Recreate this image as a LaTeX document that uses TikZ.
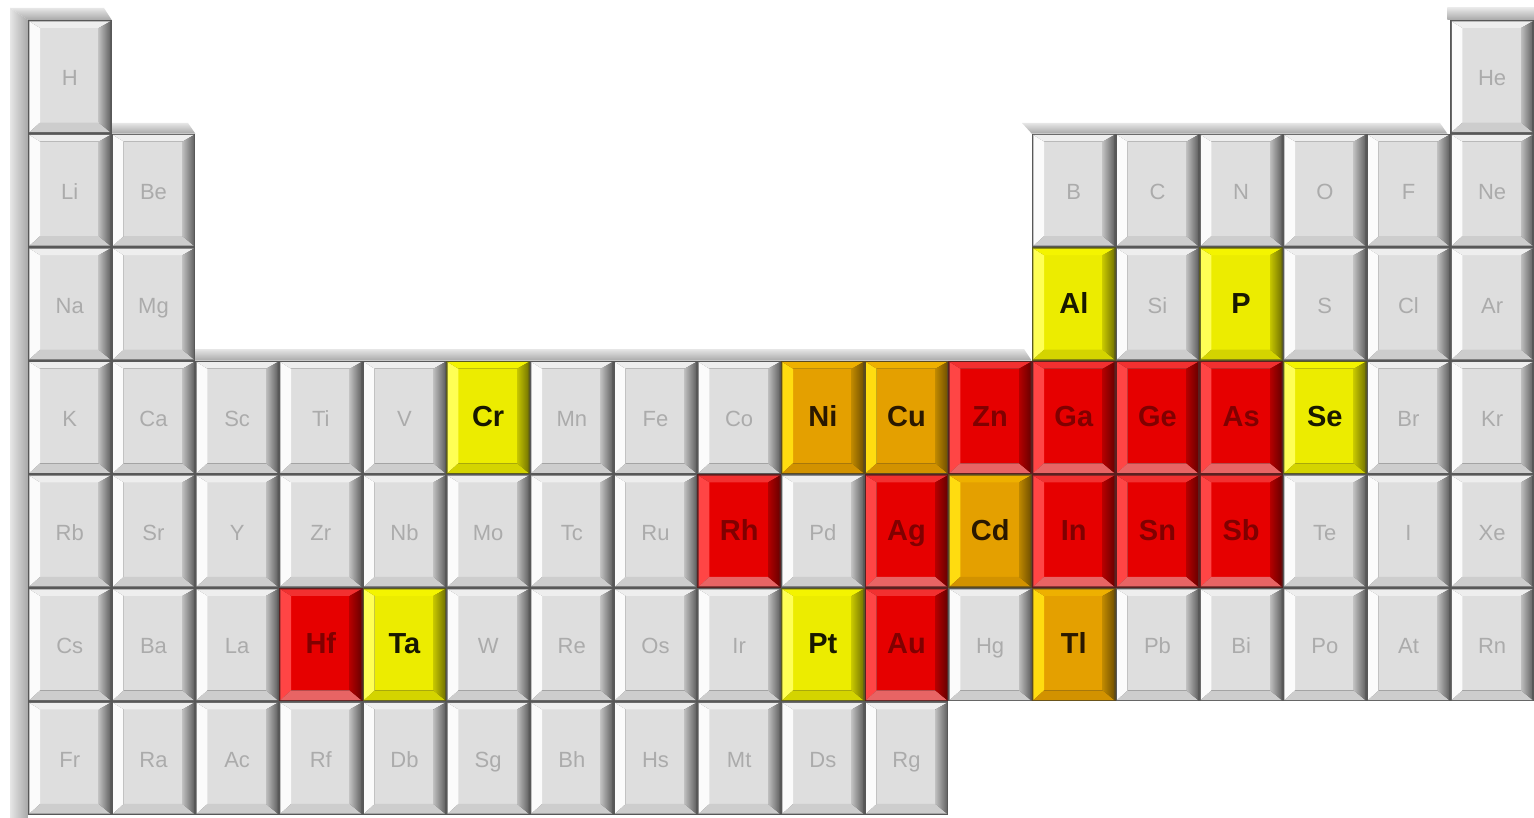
\documentclass[tikz,border=0pt]{standalone}
\usepackage{fontspec}
\setmainfont{Liberation Sans}
\definecolor{gbord}{HTML}{585858}
\definecolor{gface}{HTML}{DEDEDE}
\definecolor{glb}{HTML}{FBFBFB}
\definecolor{gtb}{HTML}{EEEEEE}
\definecolor{grin}{HTML}{BEBEBE}
\definecolor{grout}{HTML}{646464}
\definecolor{gbb}{HTML}{CDCDCD}
\definecolor{gtxt}{HTML}{ABABAB}
\definecolor{ybord}{HTML}{5A5A20}
\definecolor{yface}{HTML}{ECEC00}
\definecolor{ylb}{HTML}{FFFF55}
\definecolor{ytb}{HTML}{F4F400}
\definecolor{yrin}{HTML}{C6C600}
\definecolor{yrout}{HTML}{767600}
\definecolor{ybb}{HTML}{D4D400}
\definecolor{ytxt}{HTML}{181800}
\definecolor{obord}{HTML}{5A4A20}
\definecolor{oface}{HTML}{E4A000}
\definecolor{olb}{HTML}{FFDC10}
\definecolor{otb}{HTML}{EEB000}
\definecolor{orin}{HTML}{BE8800}
\definecolor{orout}{HTML}{745200}
\definecolor{obb}{HTML}{D29200}
\definecolor{otxt}{HTML}{2A1800}
\definecolor{rbord}{HTML}{5A2020}
\definecolor{rface}{HTML}{E60000}
\definecolor{rlb}{HTML}{FF4545}
\definecolor{rtb}{HTML}{F23030}
\definecolor{rrin}{HTML}{B40000}
\definecolor{rrout}{HTML}{6C0000}
\definecolor{rbb}{HTML}{E86464}
\definecolor{rtxt}{HTML}{800000}
\definecolor{depthA}{HTML}{E6E6E6}
\definecolor{depthB}{HTML}{A8A8A8}
\newcommand{\keycaps}[9]{%
  \foreach \kc/\kr/\ks in {#9} {
    \pgfmathsetmacro\kL{28+(\kc-1)*83.667}
    \pgfmathsetmacro\kT{20+(\kr-1)*113.57}
    \pgfmathsetmacro\kR{\kL+83.667}
    \pgfmathsetmacro\kB{\kT+113.57}
    \fill[#1] (\kL,\kT) rectangle (\kR,\kB);
    \fill[#2] (\kL+12,\kT+8) rectangle (\kR-13,\kB-11);
    \fill[#3] (\kL+1.4,\kT+1.4) -- (\kL+12,\kT+8) -- (\kL+12,\kB-11) -- (\kL+1.4,\kB-1.4) -- cycle;
    \fill[#4] (\kL+1.4,\kT+1.4) -- (\kR-1.4,\kT+1.4) -- (\kR-13,\kT+8) -- (\kL+12,\kT+8) -- cycle;
    \fill[#7] (\kL+1.4,\kB-1.4) -- (\kR-1.4,\kB-1.4) -- (\kR-13,\kB-11) -- (\kL+12,\kB-11) -- cycle;
    \shade[left color=#5,right color=#6] (\kR-1.4,\kT+1.4) -- (\kR-1.4,\kB-1.4) -- (\kR-13,\kB-11) -- (\kR-13,\kT+8) -- cycle;
    \node[#8, anchor=base] (\ks) at (\kL+41.8,\kT+66) {\ks};
  }%
}
\tikzset{
  gtext/.style={font=\fontsize{22}{22}\selectfont, text=gtxt, inner sep=0pt},
  ytext/.style={font=\bfseries\fontsize{29}{29}\selectfont, text=ytxt, inner sep=0pt},
  otext/.style={font=\bfseries\fontsize{29}{29}\selectfont, text=otxt, inner sep=0pt},
  rtext/.style={font=\bfseries\fontsize{29}{29}\selectfont, text=rtxt, inner sep=0pt},
  topdepth/.style={top color=depthA, bottom color=depthB},
  leftdepth/.style={left color=depthA, right color=depthB}
}
\begin{document}
\begin{tikzpicture}[x=1pt,y=-1pt]
\fill[white] (0,0) rectangle (1534,818);
\useasboundingbox (0,0) rectangle (1534,818);
% depth strips
\shade[leftdepth] (10,8) -- (28,20) -- (28,818) -- (10,818) -- cycle;
\shade[topdepth] (10,8) -- (104,8) -- (111.7,20) -- (28,20) -- cycle;
\shade[topdepth] (111.7,123) -- (188,123) -- (195.3,133.6) -- (111.7,133.6) -- cycle;
\shade[topdepth] (1022,123) -- (1440,123) -- (1447.3,133.6) -- (1031.7,133.6) -- cycle;
\shade[topdepth] (1447.3,8) -- (1534,8) -- (1534,20) -- (1447.3,20) -- cycle;
\shade[topdepth] (190,349) -- (1024,349) -- (1031.7,360.7) -- (195.3,360.7) -- cycle;
% gray cells
\keycaps{gbord}{gface}{glb}{gtb}{grin}{grout}{gbb}{gtext}{
 1/1/H, 18/1/He,
 1/2/Li, 2/2/Be, 13/2/B, 14/2/C, 15/2/N, 16/2/O, 17/2/F, 18/2/Ne,
 1/3/Na, 2/3/Mg, 14/3/Si, 16/3/S, 17/3/Cl, 18/3/Ar,
 1/4/K, 2/4/Ca, 3/4/Sc, 4/4/Ti, 5/4/V, 7/4/Mn, 8/4/Fe, 9/4/Co, 17/4/Br, 18/4/Kr,
 1/5/Rb, 2/5/Sr, 3/5/Y, 4/5/Zr, 5/5/Nb, 6/5/Mo, 7/5/Tc, 8/5/Ru, 10/5/Pd, 16/5/Te, 17/5/I, 18/5/Xe,
 1/6/Cs, 2/6/Ba, 3/6/La, 6/6/W, 7/6/Re, 8/6/Os, 9/6/Ir, 12/6/Hg, 14/6/Pb, 15/6/Bi, 16/6/Po, 17/6/At, 18/6/Rn,
 1/7/Fr, 2/7/Ra, 3/7/Ac, 4/7/Rf, 5/7/Db, 6/7/Sg, 7/7/Bh, 8/7/Hs, 9/7/Mt, 10/7/Ds, 11/7/Rg}
% yellow cells
\keycaps{ybord}{yface}{ylb}{ytb}{yrin}{yrout}{ybb}{ytext}{
 13/3/Al, 15/3/P, 6/4/Cr, 16/4/Se, 5/6/Ta, 10/6/Pt}
% orange cells
\keycaps{obord}{oface}{olb}{otb}{orin}{orout}{obb}{otext}{
 10/4/Ni, 11/4/Cu, 12/5/Cd, 13/6/Tl}
% red cells
\keycaps{rbord}{rface}{rlb}{rtb}{rrin}{rrout}{rbb}{rtext}{
 12/4/Zn, 13/4/Ga, 14/4/Ge, 15/4/As, 9/5/Rh, 11/5/Ag, 13/5/In, 14/5/Sn, 15/5/Sb, 4/6/Hf, 11/6/Au}
\end{tikzpicture}
\end{document}
